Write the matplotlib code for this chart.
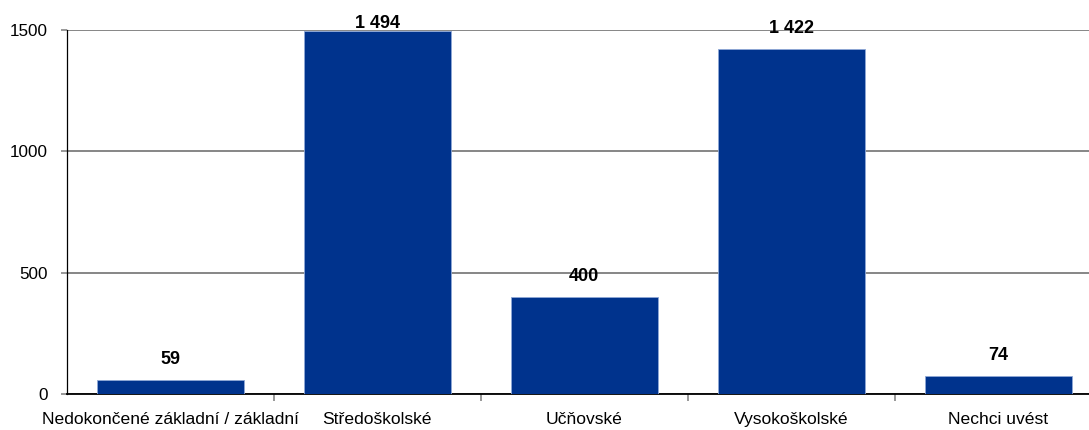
import matplotlib.pyplot as plt
from matplotlib.transforms import blended_transform_factory, IdentityTransform

# Data
categories = ['Nedokončené základní / základní', 'Středoškolské', 'Učňovské',
              'Vysokoškolské', 'Nechci uvést']
values = [59, 1494, 400, 1422, 74]
value_labels = ['59', '1 494', '400', '1 422', '74']

plt.rcParams['font.family'] = ['Liberation Sans', 'DejaVu Sans']

W, H, DPI = 1089, 430, 100
fig = plt.figure(figsize=(W / DPI, H / DPI), dpi=DPI)
# plot area runs a bit past the right edge, as in the original
ax = fig.add_axes([66.5 / W, 36 / H, 1035.5 / W, 364 / H])

xs = range(len(categories))
ax.bar(xs, values, width=0.71, color='#00338D', edgecolor='#8fa8d6',
       linewidth=0.6, zorder=3)

ax.set_xlim(-0.5, len(categories) - 0.5)
ax.set_ylim(0, 1500)
ax.set_yticks([0, 500, 1000, 1500])
ax.yaxis.grid(True, color='#868686', linewidth=1.4, zorder=0)
ax.set_axisbelow(True)

# category labels centred, tick marks between categories
ax.set_xticks(list(xs))
ax.set_xticklabels(categories, fontsize=12.6)
ax.tick_params(axis='x', length=0, pad=13)
ax.set_xticks([i + 0.5 for i in xs], minor=True)
ax.tick_params(axis='x', which='minor', length=5, width=1.2, color='#868686',
               direction='out')
ax.tick_params(axis='y', labelsize=12.3, length=4.5, width=1.2, color='#868686',
               pad=9)

for s in ['top', 'right']:
    ax.spines[s].set_visible(False)
ax.spines['left'].set_color('black')
ax.spines['left'].set_linewidth(0.9)
ax.spines['bottom'].set_color('black')
ax.spines['bottom'].set_linewidth(1.3)

# value labels above bars, kept inside the chart area
trans = blended_transform_factory(ax.transData, IdentityTransform())
fig.canvas.draw()
for x, v, lab in zip(xs, values, value_labels):
    top_px = ax.transData.transform((x, v))[1]
    y_px = min(top_px + 16, H - 28)
    ax.text(x, y_px, lab, transform=trans, ha='center', va='baseline',
            fontsize=13, fontweight='bold', zorder=4)

fig.savefig('out.png', dpi=DPI)
